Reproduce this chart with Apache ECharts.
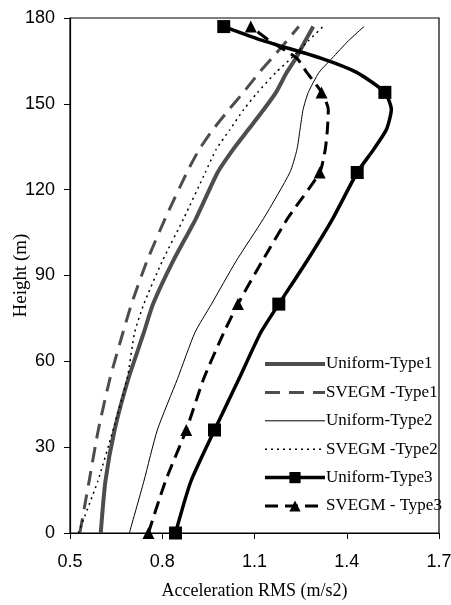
<!DOCTYPE html>
<html>
<head>
<meta charset="utf-8">
<script src="https://cdn.jsdelivr.net/npm/echarts@6/dist/echarts.min.js"></script>
<style>html,body{margin:0;padding:0;background:#fff}#c{width:451px;height:605px}</style>
</head>
<body>
<div id="c"></div>
<script>
var heights = [0, 18, 36, 54, 70, 80, 95, 110, 126, 134, 141, 148, 154, 161, 166, 172, 177];
var markerHeights = [0, 36, 80, 126, 154, 177];
var uniformType1 = [0.600, 0.615, 0.645, 0.690, 0.740, 0.770, 0.835, 0.910, 0.980, 1.030, 1.080, 1.130, 1.170, 1.205, 1.235, 1.265, 1.291];
var svegmType1 = [0.532, 0.562, 0.592, 0.630, 0.672, 0.700, 0.750, 0.810, 0.880, 0.920, 0.965, 1.017, 1.064, 1.116, 1.157, 1.205, 1.244];
var uniformType2 = [0.693, 0.740, 0.784, 0.850, 0.906, 0.960, 1.040, 1.130, 1.215, 1.238, 1.248, 1.258, 1.275, 1.310, 1.353, 1.405, 1.456];
var svegmType2 = [0.527, 0.590, 0.640, 0.686, 0.710, 0.740, 0.800, 0.870, 0.940, 0.975, 1.020, 1.065, 1.110, 1.170, 1.220, 1.275, 1.323];
var uniformType3 = [0.843, 0.893, 0.970, 1.050, 1.120, 1.179, 1.270, 1.355, 1.434, 1.487, 1.529, 1.545, 1.524, 1.432, 1.315, 1.130, 1.000];
var svegmType3 = [0.755, 0.810, 0.878, 0.935, 1.000, 1.046, 1.125, 1.208, 1.312, 1.330, 1.337, 1.340, 1.318, 1.270, 1.237, 1.150, 1.088];
var seriesNames = ['Uniform-Type1', 'SVEGM -Type1', 'Uniform-Type2', 'SVEGM -Type2', 'Uniform-Type3', 'SVEGM - Type3'];
var seriesHasMarkers = [false, false, false, false, true, true];
var xTicks = [0.5, 0.8, 1.1, 1.4, 1.7];
var yTicks = [0, 30, 60, 90, 120, 150, 180];

function build(vals, withMarkers) {
  return vals.map(function (v, i) {
    var item = { value: [v, heights[i]] };
    if (!withMarkers || markerHeights.indexOf(heights[i]) < 0) item.symbol = 'none';
    return item;
  });
}

var serif = 'Liberation Serif';
var sans = 'Liberation Sans';
var legendData = seriesNames.map(function (n, i) {
  var d = { name: n };
  if (!seriesHasMarkers[i]) d.itemStyle = { color: 'rgba(0,0,0,0)', borderWidth: 0, opacity: 0 };
  return d;
});
var chart = echarts.init(document.getElementById('c'), null, { renderer: 'canvas' });
chart.setOption({
  animation: false,
  backgroundColor: '#fff',
  grid: { left: 70, right: 12, top: 18, bottom: 72, outerBoundsMode: 'none', containLabel: false, show: true, borderColor: '#000', borderWidth: 1.2, backgroundColor: 'transparent' },
  legend: {
    data: legendData,
    orient: 'vertical',
    left: 263,
    top: 355.5,
    padding: 0,
    itemWidth: 60,
    itemHeight: 14,
    itemGap: 11.4,
    lineStyle: { width: 'inherit' },
    textStyle: { fontFamily: serif, fontSize: 17, color: '#000', padding: [0, 0, 0, -4] }
  },
  xAxis: {
    type: 'value', min: xTicks[0], max: xTicks[xTicks.length - 1], interval: 0.3,
    name: 'Acceleration RMS (m/s2)', nameLocation: 'middle', nameGap: 49, nameMoveOverlap: false,
    nameTextStyle: { fontFamily: serif, fontSize: 18, color: '#000' },
    axisLine: { show: true, lineStyle: { color: '#000', width: 1.2 } },
    axisTick: { show: true, inside: false, length: 6, lineStyle: { color: '#000' } },
    axisLabel: { fontFamily: sans, fontSize: 18, color: '#000', margin: 20, formatter: function (v) { return (Math.round(v * 10) / 10).toFixed(1); } },
    splitLine: { show: false }
  },
  yAxis: {
    type: 'value', min: yTicks[0], max: yTicks[yTicks.length - 1], interval: 30,
    name: 'Height (m)', nameLocation: 'middle', nameGap: 39, nameMoveOverlap: false,
    nameTextStyle: { fontFamily: serif, fontSize: 19, color: '#000' },
    axisLine: { show: true, lineStyle: { color: '#000', width: 1.2 } },
    axisTick: { show: true, inside: false, length: 6, lineStyle: { color: '#000' } },
    axisLabel: { fontFamily: sans, fontSize: 18, color: '#000', margin: 15 },
    splitLine: { show: false }
  },
  series: [
    { name: seriesNames[0], type: 'line', smooth: 0.2, symbol: 'none', data: build(uniformType1, false),
      lineStyle: { color: '#4d4d4d', width: 4 }, itemStyle: { color: '#4d4d4d' } },
    { name: seriesNames[1], type: 'line', smooth: 0.2, symbol: 'none', data: build(svegmType1, false),
      lineStyle: { color: '#4d4d4d', width: 3, type: [15, 9] }, itemStyle: { color: '#4d4d4d' } },
    { name: seriesNames[2], type: 'line', smooth: 0.2, symbol: 'none', data: build(uniformType2, false),
      lineStyle: { color: '#000', width: 1 }, itemStyle: { color: '#000' } },
    { name: seriesNames[3], type: 'line', smooth: 0.2, symbol: 'none', data: build(svegmType2, false),
      lineStyle: { color: '#000', width: 1.5, type: [2, 4] }, itemStyle: { color: '#000' } },
    { name: seriesNames[4], type: 'line', smooth: 0.2, symbol: 'rect', symbolSize: 13, showSymbol: true, data: build(uniformType3, true),
      lineStyle: { color: '#000', width: 3.5 }, itemStyle: { color: '#000' } },
    { name: seriesNames[5], type: 'line', smooth: 0.2, symbol: 'triangle', symbolSize: 12, showSymbol: true, data: build(svegmType3, true),
      lineStyle: { color: '#000', width: 3, type: [13, 7] }, itemStyle: { color: '#000' } }
  ]
});
</script>
</body>
</html>
